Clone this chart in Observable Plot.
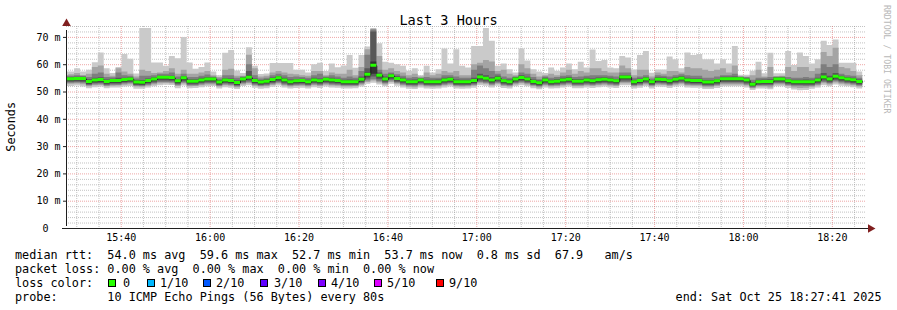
<!DOCTYPE html>
<html><head><meta charset="utf-8">
<script src="https://cdn.jsdelivr.net/npm/d3@7"></script>
<script src="https://cdn.jsdelivr.net/npm/@observablehq/plot@0.6"></script>
<style>
body{margin:0;background:#fff;}
#wrap{position:relative;width:897px;height:310px;background:#fff;font-family:"DejaVu Sans Mono",monospace;color:#000;overflow:hidden}
#wrap svg{position:absolute;left:0;top:0}
.t{position:absolute;white-space:pre;font-size:11.8px;line-height:14px;height:14px}
.box{position:absolute;width:6px;height:6px;border:1px solid #000}
</style></head><body><div id="wrap"></div>
<script>
// ---- time frame ----
const startTime = new Date(Date.UTC(2025, 9, 25, 15, 27, 41));
const endTime = new Date(Date.UTC(2025, 9, 25, 18, 27, 41));
const firstSampleEnd = new Date(Date.UTC(2025, 9, 25, 15, 28, 10));
const stepSeconds = 80;
const yMax = 74;

// ---- median rtt (ms) per 80 s sample ----
const median = [
54.7,54.7,54.8,54.8,53.7,54.2,54.4,53.7,54.0,54.0,54.4,54.6,53.5,53.4,54.0,
54.6,55.2,55.2,55.1,53.9,55.0,53.8,53.8,54.2,54.6,54.6,53.5,54.2,54.0,53.3,
54.6,55.2,54.0,53.5,53.8,54.4,55.0,54.2,53.6,53.9,54.0,53.6,54.2,53.9,54.5,
54.2,54.0,53.6,53.6,53.6,54.5,56.3,59.6,56.0,54.6,55.8,54.8,54.2,53.6,53.6,
54.2,53.6,53.6,53.6,54.2,54.5,53.6,53.6,53.6,54.0,55.3,54.9,54.2,54.9,53.9,
53.6,54.6,55.1,54.6,53.7,53.2,54.2,53.6,53.8,54.2,54.5,53.8,53.8,54.2,53.9,
54.3,54.5,54.2,53.9,55.3,55.3,53.6,54.0,54.6,53.6,54.5,54.4,53.9,54.5,54.9,
54.2,54.0,54.0,53.5,53.5,53.9,54.7,54.7,54.7,54.7,54.2,52.7,53.6,53.7,53.7,
54.6,54.6,53.9,53.6,53.6,53.6,53.6,54.2,55.3,54.6,55.6,55.0,54.6,54.3,53.7];

// ---- sorted pings (ms): ping1 = fastest ... ping10 = slowest ----
const ping10 = [
57.3,57.3,58.5,57.3,58.0,60.7,64.3,58.5,56.8,59.0,63.7,62.0,56.6,73.3,73.3,
60.6,60.6,59.4,63.0,62.2,70.0,60.6,58.3,59.0,60.6,57.3,56.0,64.2,65.2,57.7,
56.8,66.2,59.4,56.4,56.6,60.4,60.4,60.4,60.4,58.0,58.0,57.0,60.0,60.5,57.5,
60.3,58.9,59.5,63.4,58.7,63.4,66.5,73.3,67.7,60.9,60.5,60.0,59.4,57.6,58.5,
56.0,59.4,57.0,58.2,65.8,60.3,65.5,59.4,58.8,66.7,66.7,73.3,68.6,59.4,60.3,
58.2,57.0,65.8,61.4,58.2,57.3,56.8,58.8,57.6,58.8,60.3,58.2,60.9,58.8,65.4,
61.2,61.5,58.8,58.5,63.0,62.5,58.1,63.4,64.8,56.9,58.1,58.1,62.8,61.8,58.5,
64.3,63.4,63.7,61.8,61.8,60.3,61.8,60.3,66.7,56.1,56.1,57.6,60.9,56.7,64.2,
56.7,56.7,64.8,59.7,64.3,63.0,60.3,61.8,68.6,67.0,69.1,60.5,60.5,60.5,57.3];
const ping9 = [
56.0,56.3,56.8,56.0,56.5,59.0,59.5,56.5,55.8,58.5,57.3,56.5,55.5,58.0,57.5,
56.8,57.0,57.5,58.5,56.5,58.0,56.5,56.5,57.0,57.5,56.0,55.3,58.0,58.3,55.8,
55.8,63.5,58.5,55.5,55.8,57.0,57.5,57.0,56.5,56.3,56.0,55.8,57.5,57.5,56.0,
57.0,56.5,56.5,58.0,56.0,59.0,65.5,73.0,63.0,58.0,58.5,57.5,57.0,56.0,56.5,
55.5,57.0,56.0,56.5,57.5,57.0,57.5,56.0,56.0,60.0,60.5,61.5,61.0,57.5,58.0,
56.5,56.0,60.0,58.5,56.5,55.5,56.0,56.5,56.0,57.0,58.0,56.5,57.5,57.0,58.5,
58.5,57.5,57.0,57.0,59.5,58.5,56.0,58.0,58.0,55.5,57.0,56.5,57.5,57.5,57.0,
59.0,58.5,58.5,58.0,57.5,58.0,58.5,57.0,59.5,55.5,55.5,56.0,58.0,55.5,59.0,
55.5,55.8,59.0,57.5,59.0,59.0,57.5,58.5,64.5,63.0,66.0,59.0,58.5,57.5,56.0];
const ping8 = [
55.8,55.8,56.0,55.8,55.3,56.5,57.0,55.3,55.2,57.0,56.0,55.8,54.8,55.8,55.8,
56.0,56.5,56.5,57.0,55.5,56.5,55.3,55.3,55.8,56.2,55.5,54.8,56.0,56.0,55.0,
55.5,60.0,56.0,54.8,55.0,56.0,56.5,56.0,55.3,55.5,55.3,55.0,56.0,56.5,55.5,
56.0,55.5,55.0,55.5,55.0,57.5,63.5,72.7,58.0,56.5,57.0,56.3,55.8,55.0,55.3,
55.0,55.3,55.0,55.0,56.0,56.0,55.5,55.0,55.0,58.0,59.5,58.5,57.5,56.5,55.5,
55.0,55.5,57.0,56.5,55.3,54.5,55.5,55.0,55.3,55.8,56.0,55.3,55.5,55.8,56.0,
56.0,56.0,55.8,55.5,57.0,57.0,55.0,55.5,56.0,54.8,56.0,55.8,55.5,56.0,56.3,
56.0,55.8,55.8,55.0,55.0,55.5,56.0,56.0,56.5,55.5,55.3,54.3,55.0,55.0,55.3,
55.5,55.5,55.3,55.0,55.0,55.3,55.0,56.5,60.0,59.0,60.0,56.5,56.0,55.8,55.0];
const ping7 = [
55.3,55.3,55.4,55.4,54.5,55.0,55.2,54.4,54.7,55.0,55.0,55.2,54.2,54.2,54.8,
55.2,55.8,55.8,55.8,54.6,55.7,54.5,54.5,55.0,55.3,55.2,54.2,54.9,54.8,54.1,
55.2,57.5,54.8,54.2,54.5,55.1,55.7,55.0,54.4,54.6,54.7,54.3,55.0,54.8,55.1,
55.0,54.7,54.3,54.4,54.3,55.5,58.5,72.0,57.0,55.5,56.5,55.6,55.0,54.3,54.4,
54.9,54.3,54.3,54.4,55.0,55.2,54.4,54.3,54.3,55.0,56.5,56.0,55.2,55.8,54.6,
54.4,55.3,56.0,55.4,54.4,54.0,55.0,54.3,54.6,55.0,55.3,54.6,54.6,55.0,54.8,
55.1,55.2,55.0,54.6,56.0,56.0,54.3,54.8,55.3,54.2,55.2,55.1,54.6,55.2,55.6,
55.0,54.8,54.8,54.2,54.2,54.6,55.4,55.4,55.5,55.3,54.9,53.5,54.3,54.4,54.5,
55.3,55.3,54.6,54.3,54.3,54.4,54.3,55.0,56.8,55.8,56.8,55.8,55.3,55.0,54.4];
const ping6 = [
54.9,54.9,55.0,55.0,54.0,54.4,54.6,54.0,54.2,54.3,54.6,54.8,53.8,53.7,54.3,
54.8,55.4,55.4,55.3,54.2,55.2,54.0,54.1,54.4,54.8,54.8,53.8,54.4,54.2,53.6,
54.8,55.8,54.3,53.8,54.0,54.6,55.2,54.5,53.9,54.1,54.2,53.9,54.4,54.1,54.7,
54.4,54.2,53.9,53.9,53.9,54.8,57.0,61.0,56.4,54.9,56.1,55.0,54.4,53.9,53.9,
54.4,53.9,53.9,53.9,54.4,54.7,53.9,53.9,53.9,54.3,55.6,55.2,54.5,55.2,54.2,
53.9,54.8,55.4,54.8,54.0,53.5,54.4,53.9,54.1,54.4,54.7,54.1,54.1,54.4,54.2,
54.5,54.7,54.4,54.2,55.5,55.5,53.9,54.3,54.8,53.9,54.7,54.6,54.2,54.7,55.1,
54.4,54.3,54.3,53.8,53.8,54.2,54.9,54.9,54.9,54.9,54.5,53.0,53.9,54.0,54.0,
54.8,54.8,54.2,53.9,53.9,53.9,53.9,54.4,55.6,54.9,55.9,55.3,54.8,54.6,54.0];
const ping5 = [
54.0,54.0,54.1,54.1,52.9,53.5,53.7,53.0,53.3,53.3,53.7,53.9,52.8,52.7,53.3,
53.9,54.5,54.5,54.4,53.2,54.3,53.1,53.1,53.5,53.9,53.9,52.8,53.5,53.3,52.6,
53.9,54.5,53.3,52.8,53.1,53.7,54.3,53.5,52.9,53.2,53.3,52.9,53.5,53.2,53.8,
53.5,53.3,52.9,52.9,52.9,53.8,55.5,56.5,55.2,53.9,55.0,54.1,53.5,52.9,52.9,
53.5,52.9,52.9,52.9,53.5,53.8,52.9,52.9,52.9,53.3,54.6,54.2,53.5,54.2,53.2,
52.9,53.9,54.4,53.9,53.0,52.5,53.5,52.9,53.1,53.5,53.8,53.1,53.1,53.5,53.2,
53.6,53.8,53.5,53.2,54.6,54.6,52.9,53.3,53.9,52.9,53.8,53.7,53.2,53.8,54.2,
53.5,53.3,53.3,52.8,52.8,53.2,54.0,54.0,54.0,54.0,53.5,52.1,52.9,53.0,53.0,
53.9,53.9,53.2,52.9,52.9,52.9,52.9,53.5,54.6,53.9,54.9,54.3,53.9,53.6,53.0];
const ping4 = [
53.6,53.6,53.7,53.6,52.6,53.1,53.2,52.6,52.9,52.9,53.3,53.5,52.4,52.4,52.9,
53.4,54.0,54.0,53.9,52.8,53.8,52.7,52.7,53.1,53.4,53.4,52.4,53.1,52.9,52.3,
53.4,54.0,52.9,52.4,52.7,53.2,53.8,53.0,52.5,52.8,52.9,52.5,53.1,52.8,53.3,
53.0,52.9,52.5,52.5,52.5,53.3,54.8,55.5,54.5,53.4,54.5,53.6,53.0,52.5,52.5,
53.0,52.5,52.5,52.5,53.0,53.3,52.5,52.5,52.5,52.9,54.0,53.7,53.0,53.7,52.8,
52.5,53.4,53.9,53.4,52.6,52.2,53.0,52.5,52.7,53.0,53.3,52.7,52.7,53.0,52.8,
53.1,53.3,53.0,52.8,54.0,54.0,52.5,52.9,53.4,52.5,53.3,53.2,52.8,53.3,53.7,
53.0,52.9,52.9,52.4,52.4,52.8,53.5,53.5,53.5,53.5,53.0,51.8,52.5,52.6,52.6,
53.4,53.4,52.8,52.5,52.5,52.5,52.5,53.0,54.0,53.4,54.3,53.8,53.4,53.1,52.6];
const ping3 = [
53.2,53.2,53.3,53.2,52.3,52.7,52.8,52.2,52.5,52.5,52.9,53.1,52.1,52.0,52.5,
53.0,53.5,53.5,53.4,52.4,53.3,52.3,52.3,52.7,53.0,53.0,52.1,52.7,52.5,51.9,
53.0,53.4,52.5,52.1,52.3,52.8,53.3,52.6,52.2,52.4,52.5,52.2,52.7,52.4,52.9,
52.6,52.5,52.2,52.2,52.2,52.9,54.0,54.5,53.8,53.0,54.0,53.2,52.6,52.2,52.1,
52.6,52.2,52.1,52.2,52.6,52.9,52.2,52.1,52.2,52.5,53.5,53.2,52.6,53.2,52.4,
52.2,53.0,53.4,53.0,52.3,51.9,52.6,52.2,52.3,52.6,52.9,52.3,52.3,52.6,52.4,
52.7,52.9,52.6,52.4,53.5,53.5,52.2,52.5,53.0,52.2,52.9,52.8,52.4,52.9,53.2,
52.6,52.5,52.5,52.0,52.0,52.4,53.0,53.0,53.0,53.0,52.6,51.5,52.2,52.2,52.2,
53.0,53.0,52.4,52.1,52.1,52.0,52.1,52.6,53.5,53.0,53.8,53.3,53.0,52.7,52.2];
const ping2 = [
52.8,52.8,52.9,52.7,51.9,52.3,52.4,51.9,52.1,52.2,52.5,52.7,51.8,51.7,52.1,
52.6,53.0,53.1,53.0,52.0,52.9,51.9,52.0,52.3,52.6,52.6,51.8,52.3,52.1,51.6,
52.6,53.0,52.1,51.8,51.9,52.4,52.9,52.2,51.8,52.0,52.1,51.8,52.3,52.0,52.5,
52.2,52.1,51.8,51.8,51.9,52.5,53.5,54.0,53.3,52.6,53.5,52.8,52.2,51.7,51.6,
52.2,51.8,51.7,51.8,52.2,52.5,51.8,51.7,51.8,52.1,53.0,52.8,52.2,52.8,52.0,
51.8,52.6,53.0,52.6,51.9,51.5,52.2,51.8,51.9,52.2,52.5,51.9,51.9,52.2,52.0,
52.3,52.5,52.2,52.0,53.0,53.0,51.8,52.1,52.6,51.8,52.5,52.4,52.0,52.5,52.8,
52.2,52.1,52.1,51.6,51.6,52.0,52.6,52.6,52.6,52.6,52.2,51.2,51.8,51.8,51.5,
52.6,52.6,52.0,51.5,51.3,51.4,51.7,52.2,53.0,52.6,53.3,52.8,52.6,52.3,51.8];
const ping1 = [
52.0,52.0,52.2,51.8,51.2,51.6,51.8,51.2,51.5,51.5,51.8,52.0,51.0,51.0,51.5,
51.9,52.3,52.5,52.4,51.2,52.2,51.2,51.3,51.6,51.9,52.0,51.1,51.6,51.4,50.9,
52.0,52.3,51.4,51.0,51.2,51.7,52.2,51.5,51.1,51.3,51.4,51.1,51.6,51.3,51.8,
51.5,51.4,51.1,51.1,51.2,51.8,52.8,53.2,52.6,51.9,52.8,52.1,51.5,51.0,50.9,
51.5,51.1,51.0,51.1,51.5,51.8,51.1,51.0,51.1,51.4,52.3,52.1,51.5,52.1,51.3,
51.1,51.9,52.3,51.9,51.2,50.8,51.5,51.1,51.2,51.5,51.8,51.2,51.2,51.5,51.3,
51.6,51.8,51.5,51.3,52.3,52.3,51.1,51.4,51.9,51.1,51.8,51.7,51.3,51.8,52.1,
51.5,51.4,51.4,50.9,50.9,51.3,51.9,51.9,51.9,51.9,51.5,50.6,51.1,51.1,50.8,
51.9,51.9,51.3,50.7,50.5,50.6,51.0,51.5,52.3,51.9,52.6,52.1,51.9,51.6,51.1];

// ---- axis ticks & legend texts ----
const yMajorTicks = [0, 10, 20, 30, 40, 50, 60, 70];
const smokeColors = ["#cacaca", "#a4a4a4", "#7e7e7e", "#585858", "#323232"];
const lossLabels = ["0", "1/10", "2/10", "3/10", "4/10", "5/10", "9/10"];
const lossColors = ["#26ff00", "#00b8ff", "#0059ff", "#5e00ff", "#7e00ff", "#dd00ff", "#ff0000"];
const titleText = "Last 3 Hours";
const yLabelText = "Seconds";
const watermarkText = "RRDTOOL / TOBI OETIKER";
const legendLines = [
  "median rtt:  54.0 ms avg  59.6 ms max  52.7 ms min  53.7 ms now  0.8 ms sd  67.9   am/s",
  "packet loss: 0.00 % avg  0.00 % max  0.00 % min  0.00 % now",
  "loss color:",
  "probe:       10 ICMP Echo Pings (56 Bytes) every 80s"
];
const endText = "end: Sat Oct 25 18:27:41 2025";

// ---- build table ----
const pings = [ping1, ping2, ping3, ping4, ping5, ping6, ping7, ping8, ping9, ping10];
const rows = median.map((m, j) => {
  const tEnd = new Date(+firstSampleEnd + j * stepSeconds * 1000);
  const tBeg = new Date(Math.max(+startTime, +tEnd - stepSeconds * 1000));
  const r = {t1: tBeg, t2: tEnd, med: m};
  pings.forEach((p, k) => r["p" + (k + 1)] = p[j]);
  return r;
});
const pts = rows.flatMap(r => [{...r, t: r.t1}, {...r, t: r.t2}]);

const fiveMin = d3.utcMinute.every(5).range(startTime, endTime);
const xMajor = fiveMin.filter(d => d.getUTCMinutes() % 20 === 0);
const xMinor = fiveMin.filter(d => d.getUTCMinutes() % 20 !== 0);
const yMinor = d3.range(2, yMax + 0.1, 2).filter(v => v % 10 !== 0);
const yMajorGrid = yMajorTicks.filter(v => v > 0);

const gridC = "rgba(143,143,143,0.55)";
const mgridC = "rgba(222,79,79,0.5)";
const axisC = "#1f1f1f";
const arrowC = "#801f1f";

const marks = [];
// grid below the data
marks.push(Plot.ruleY(yMinor, {stroke: gridC, strokeDasharray: "1,1"}));
marks.push(Plot.ruleX(xMinor, {stroke: gridC, strokeDasharray: "1,1"}));
marks.push(Plot.ruleY(yMajorGrid, {stroke: mgridC, strokeDasharray: "1,1"}));
marks.push(Plot.ruleX(xMajor, {stroke: mgridC, strokeDasharray: "1,1"}));
smokeColors.forEach((c, i) => {
  marks.push(Plot.area(pts, {x1: "t", y1: "p" + (i + 1), y2: "p" + (10 - i), fill: c, curve: "linear"}));
});
marks.push(Plot.line(pts, {x: "t", y: "med", stroke: "#202020", strokeWidth: 1}));
marks.push(Plot.area(pts, {x1: "t", y1: d => d.med - 0.55, y2: d => d.med + 0.55, fill: lossColors[0], curve: "linear"}));
// axes
marks.push(Plot.axisY(yMajorTicks, {tickSize: 3, tickPadding: 3, stroke: axisC,
  tickFormat: d => d === 0 ? "0\u00a0\u00a0" : d + " m", fontSize: 10, label: null}));
marks.push(Plot.axisX(xMajor, {tickSize: 0, tickPadding: 5, tickFormat: d3.utcFormat("%H:%M"), fontSize: 10, label: null}));
marks.push(Plot.ruleX([startTime], {y1: 0, y2: yMax, stroke: axisC, insetBottom: -4, insetTop: -2}));
marks.push(Plot.ruleY([0], {x1: startTime, x2: endTime, stroke: axisC, insetLeft: -4, insetRight: -2}));
marks.push(Plot.dot([{x: startTime, y: yMax}], {x: "x", y: "y", symbol: "triangle", r: 3.2, fill: arrowC, dy: -3}));
marks.push(Plot.dot([{x: endTime, y: 0}], {x: "x", y: "y", symbol: "triangle", r: 3.2, fill: arrowC, rotate: 90, dx: 4}));

const chart = Plot.plot({
  width: 897, height: 245,
  marginTop: 26, marginBottom: 17, marginLeft: 66, marginRight: 31,
  x: {type: "utc", domain: [startTime, endTime], axis: null},
  y: {domain: [0, yMax], axis: null},
  style: {background: "transparent", fontFamily: "DejaVu Sans Mono", fontSize: "10px", color: "#000", overflow: "visible"},
  marks
});

const wrap = document.getElementById("wrap");
wrap.appendChild(chart);

function addDiv(text, css, cls = "t") {
  const d = document.createElement("div");
  d.className = cls;
  d.textContent = text;
  Object.assign(d.style, css);
  wrap.appendChild(d);
  return d;
}
addDiv(titleText, {left: "0px", width: "897px", textAlign: "center", top: "14px", fontSize: "13.6px", lineHeight: "13.6px", height: "14px"});
addDiv(yLabelText, {left: "4px", top: "102px", writingMode: "vertical-rl", transform: "rotate(180deg)", height: "auto", lineHeight: "14px"});
addDiv(watermarkText, {left: "882px", top: "5px", writingMode: "vertical-rl", fontSize: "8.2px", lineHeight: "9px", height: "auto", color: "#b8b8b8"});
legendLines.forEach((s, i) => addDiv(s, {left: "15px", top: (247.5 + i * 14) + "px"}));
addDiv(endText, {right: "15.5px", top: (247.5 + 3 * 14) + "px"});
const boxX = [108, 147, 203, 260, 318, 374, 436];
const textX = [123, 160, 216, 274, 331, 387, 449];
lossLabels.forEach((lab, i) => {
  const b = document.createElement("div");
  b.className = "box";
  Object.assign(b.style, {left: boxX[i] + "px", top: "278.5px", background: lossColors[i]});
  wrap.appendChild(b);
  addDiv(lab, {left: textX[i] + "px", top: (247.5 + 2 * 14) + "px"});
});
</script></body></html>
